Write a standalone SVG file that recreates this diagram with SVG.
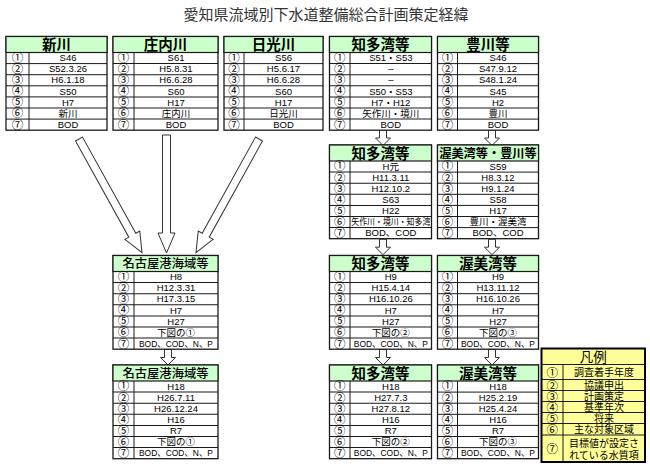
<svg xmlns="http://www.w3.org/2000/svg" width="650" height="466" viewBox="0 0 650 466">
<style>
.frame{fill:#fff;stroke:#1a1a1a;stroke-width:1.3}
.hd{fill:#ccffcc;stroke:#1a1a1a;stroke-width:1.2}
.ln{stroke:#1a1a1a;stroke-width:1;fill:none}
.ht{font-family:"Noto Sans CJK JP",sans-serif;font-weight:bold;font-size:14.5px;text-anchor:middle;fill:#000}
.hs{font-family:"Noto Sans CJK JP",sans-serif;font-size:12.3px;font-weight:500;text-anchor:middle;fill:#000}
.n{font-family:"Noto Sans CJK JP",sans-serif;font-size:11.5px;text-anchor:middle;fill:#000}
.v{font-family:"Liberation Sans","Noto Sans CJK JP",sans-serif;font-size:9.5px;text-anchor:middle;fill:#000}
.lg{font-family:"Noto Sans CJK JP",sans-serif;font-size:10px;text-anchor:middle;fill:#000}
.arr{fill:#fff;stroke:#333;stroke-width:1}
.title{font-family:"Noto Sans CJK JP",sans-serif;font-size:15px;text-anchor:middle;fill:#333}
</style>
<defs>
<g id="grid101">
<line class="ln" x1="0" y1="27.1" x2="101" y2="27.1"/><line class="ln" x1="0" y1="38.2" x2="101" y2="38.2"/><line class="ln" x1="0" y1="49.3" x2="101" y2="49.3"/><line class="ln" x1="0" y1="60.4" x2="101" y2="60.4"/><line class="ln" x1="0" y1="71.5" x2="101" y2="71.5"/><line class="ln" x1="0" y1="82.6" x2="101" y2="82.6"/>
</g>
<g id="nums">
<text class="n" y="25.4">①</text><text class="n" y="36.5">②</text><text class="n" y="47.6">③</text><text class="n" y="58.7">④</text><text class="n" y="69.8">⑤</text><text class="n" y="80.9">⑥</text><text class="n" y="92">⑦</text>
</g>
<path id="small" class="arr" d="M-3.5,0 H3.5 V8 H7.5 L0,15.5 L-7.5,8 H-3.5 Z"/>
</defs>
<text class="title" x="326" y="20">愛知県流域別下水道整備総合計画策定経緯</text>

<g id="connectors">
<path class="arr" transform="translate(79,139) rotate(-29)" d="M-4,0 H4 V110 H8.5 L0,130 L-8.5,110 H-4 Z"/>
<path class="arr" transform="translate(166.5,135)" d="M-4,0 H4 V98 H8.5 L0,118 L-8.5,98 H-4 Z"/>
<path class="arr" transform="translate(259,139) rotate(29)" d="M-4,0 H4 V110 H8.5 L0,130 L-8.5,110 H-4 Z"/>
<use href="#small" x="383" y="130"/>
<use href="#small" x="492" y="130"/>
<use href="#small" x="383" y="239.2"/>
<use href="#small" x="492" y="239.2"/>
<use href="#small" x="383" y="349.5"/>
<use href="#small" x="492" y="349.5"/>
<use href="#small" x="168" y="349.5"/>
</g>

<g id="shinkawa" transform="translate(6,36.5)">
<rect class="frame" width="101" height="93.7"/><rect class="hd" width="101" height="16"/>
<use href="#grid101"/>
<line class="ln" x1="23" y1="16" x2="23" y2="93.7"/>
<use href="#nums" x="11.5"/>
<text class="ht" x="50.5" y="13.6">新川</text>
<g class="v"><text x="62" y="24.7">S46</text><text x="62" y="35.8">S52.3.26</text><text x="62" y="46.9">H6.1.18</text><text x="62" y="58">S50</text><text x="62" y="69.1">H7</text><text x="62" y="80.2">新川</text><text x="62" y="91.3">BOD</text></g>
</g>

<g id="shonai" transform="translate(113,36.5)">
<rect class="frame" width="105" height="93.7"/><rect class="hd" width="105" height="16"/>
<g transform="scale(1.0396,1)"><use href="#grid101"/></g>
<line class="ln" x1="21" y1="16" x2="21" y2="93.7"/>
<use href="#nums" x="10.5"/>
<text class="ht" x="52.5" y="13.6">庄内川</text>
<g class="v"><text x="63" y="24.7">S61</text><text x="63" y="35.8">H5.8.31</text><text x="63" y="46.9">H6.6.28</text><text x="63" y="58">S60</text><text x="63" y="69.1">H17</text><text x="63" y="80.2">庄内川</text><text x="63" y="91.3">BOD</text></g>
</g>

<g id="nikko" transform="translate(224,36.5)">
<rect class="frame" width="99" height="93.7"/><rect class="hd" width="99" height="16"/>
<g transform="scale(0.9802,1)"><use href="#grid101"/></g>
<line class="ln" x1="20" y1="16" x2="20" y2="93.7"/>
<use href="#nums" x="10"/>
<text class="ht" x="49.5" y="13.6">日光川</text>
<g class="v"><text x="59.5" y="24.7">S56</text><text x="59.5" y="35.8">H5.6.17</text><text x="59.5" y="46.9">H6.6.28</text><text x="59.5" y="58">S60</text><text x="59.5" y="69.1">H17</text><text x="59.5" y="80.2">日光川</text><text x="59.5" y="91.3">BOD</text></g>
</g>

<g id="chita1" transform="translate(329.5,36.5)">
<rect class="frame" width="102" height="93.7"/><rect class="hd" width="102" height="16"/>
<g transform="scale(1.0099,1)"><use href="#grid101"/></g>
<line class="ln" x1="20.5" y1="16" x2="20.5" y2="93.7"/>
<use href="#nums" x="10.3"/>
<text class="ht" x="51" y="13.6">知多湾等</text>
<g class="v"><text x="61.3" y="24.7">S51・S53</text><text x="61.3" y="35.8">–</text><text x="61.3" y="46.9">–</text><text x="61.3" y="58">S50・S53</text><text x="61.3" y="69.1">H7・H12</text><text x="61.3" y="80.2">矢作川・境川</text><text x="61.3" y="91.3">BOD</text></g>
</g>

<g id="toyokawa1" transform="translate(437.5,36.5)">
<rect class="frame" width="101" height="93.7"/><rect class="hd" width="101" height="16"/>
<use href="#grid101"/>
<line class="ln" x1="20" y1="16" x2="20" y2="93.7"/>
<use href="#nums" x="10"/>
<text class="ht" x="50.5" y="13.6">豊川等</text>
<g class="v"><text x="60.5" y="24.7">S46</text><text x="60.5" y="35.8">S47.9.12</text><text x="60.5" y="46.9">S48.1.24</text><text x="60.5" y="58">S45</text><text x="60.5" y="69.1">H2</text><text x="60.5" y="80.2">豊川</text><text x="60.5" y="91.3">BOD</text></g>
</g>

<g id="chita2" transform="translate(329.5,145)">
<rect class="frame" width="102" height="93.7"/><rect class="hd" width="102" height="16"/>
<g transform="scale(1.0099,1)"><use href="#grid101"/></g>
<line class="ln" x1="20.5" y1="16" x2="20.5" y2="93.7"/>
<use href="#nums" x="10.3"/>
<text class="ht" x="51" y="13.6">知多湾等</text>
<g class="v"><text x="61.3" y="24.7">H元</text><text x="61.3" y="35.8">H11.3.11</text><text x="61.3" y="46.9">H12.10.2</text><text x="61.3" y="58">S63</text><text x="61.3" y="69.1">H22</text><text x="61.3" y="80.2" textLength="79" lengthAdjust="spacingAndGlyphs" style="font-size:8.6px">矢作川・境川・知多湾</text><text x="61.3" y="91.3">BOD、COD</text></g>
</g>

<g id="atsumi-toyokawa" transform="translate(437.5,145)">
<rect class="frame" width="101" height="93.7"/><rect class="hd" width="101" height="16"/>
<use href="#grid101"/>
<line class="ln" x1="20" y1="16" x2="20" y2="93.7"/>
<use href="#nums" x="10"/>
<text class="ht" x="50.5" y="13.3" style="font-size:12.2px">渥美湾等・豊川等</text>
<g class="v"><text x="60.5" y="24.7">S59</text><text x="60.5" y="35.8">H8.3.12</text><text x="60.5" y="46.9">H9.1.24</text><text x="60.5" y="58">S58</text><text x="60.5" y="69.1">H17</text><text x="60.5" y="80.2">豊川・渥美湾</text><text x="60.5" y="91.3">BOD、COD</text></g>
</g>

<g id="nagoya1" transform="translate(113,255.5)">
<rect class="frame" width="105" height="93.7"/><rect class="hd" width="105" height="16"/>
<g transform="scale(1.0396,1)"><use href="#grid101"/></g>
<line class="ln" x1="21" y1="16" x2="21" y2="93.7"/>
<use href="#nums" x="10.5"/>
<text class="hs" x="52.5" y="12.9">名古屋港海域等</text>
<g class="v"><text x="63" y="24.7">H8</text><text x="63" y="35.8">H12.3.31</text><text x="63" y="46.9">H17.3.15</text><text x="63" y="58">H7</text><text x="63" y="69.1">H27</text><text x="63" y="80.2">下図の①</text><text x="63" y="91.3" textLength="74" lengthAdjust="spacingAndGlyphs">BOD、COD、N、P</text></g>
</g>

<g id="chita3" transform="translate(329.5,255.5)">
<rect class="frame" width="102" height="93.7"/><rect class="hd" width="102" height="16"/>
<g transform="scale(1.0099,1)"><use href="#grid101"/></g>
<line class="ln" x1="20.5" y1="16" x2="20.5" y2="93.7"/>
<use href="#nums" x="10.3"/>
<text class="ht" x="51" y="13.6">知多湾等</text>
<g class="v"><text x="61.3" y="24.7">H9</text><text x="61.3" y="35.8">H15.4.14</text><text x="61.3" y="46.9">H16.10.26</text><text x="61.3" y="58">H7</text><text x="61.3" y="69.1">H27</text><text x="61.3" y="80.2">下図の②</text><text x="61.3" y="91.3" textLength="74" lengthAdjust="spacingAndGlyphs">BOD、COD、N、P</text></g>
</g>

<g id="atsumi3" transform="translate(437.5,255.5)">
<rect class="frame" width="101" height="93.7"/><rect class="hd" width="101" height="16"/>
<use href="#grid101"/>
<line class="ln" x1="20" y1="16" x2="20" y2="93.7"/>
<use href="#nums" x="10"/>
<text class="ht" x="50.5" y="13.6">渥美湾等</text>
<g class="v"><text x="60.5" y="24.7">H9</text><text x="60.5" y="35.8">H13.11.12</text><text x="60.5" y="46.9">H16.10.26</text><text x="60.5" y="58">H7</text><text x="60.5" y="69.1">H27</text><text x="60.5" y="80.2">下図の③</text><text x="60.5" y="91.3" textLength="74" lengthAdjust="spacingAndGlyphs">BOD、COD、N、P</text></g>
</g>

<g id="nagoya2" transform="translate(113,365)">
<rect class="frame" width="105" height="93.7"/><rect class="hd" width="105" height="16"/>
<g transform="scale(1.0396,1)"><use href="#grid101"/></g>
<line class="ln" x1="21" y1="16" x2="21" y2="93.7"/>
<use href="#nums" x="10.5"/>
<text class="hs" x="52.5" y="12.9">名古屋港海域等</text>
<g class="v"><text x="63" y="24.7">H18</text><text x="63" y="35.8">H26.7.11</text><text x="63" y="46.9">H26.12.24</text><text x="63" y="58">H16</text><text x="63" y="69.1">R7</text><text x="63" y="80.2">下図の①</text><text x="63" y="91.3" textLength="74" lengthAdjust="spacingAndGlyphs">BOD、COD、N、P</text></g>
</g>

<g id="chita4" transform="translate(329.5,365)">
<rect class="frame" width="102" height="93.7"/><rect class="hd" width="102" height="16"/>
<g transform="scale(1.0099,1)"><use href="#grid101"/></g>
<line class="ln" x1="20.5" y1="16" x2="20.5" y2="93.7"/>
<use href="#nums" x="10.3"/>
<text class="ht" x="51" y="13.6">知多湾等</text>
<g class="v"><text x="61.3" y="24.7">H18</text><text x="61.3" y="35.8">H27.7.3</text><text x="61.3" y="46.9">H27.8.12</text><text x="61.3" y="58">H16</text><text x="61.3" y="69.1">R7</text><text x="61.3" y="80.2">下図の②</text><text x="61.3" y="91.3" textLength="74" lengthAdjust="spacingAndGlyphs">BOD、COD、N、P</text></g>
</g>

<g id="atsumi4" transform="translate(437.5,365)">
<rect class="frame" width="101" height="93.7"/><rect class="hd" width="101" height="16"/>
<use href="#grid101"/>
<line class="ln" x1="20" y1="16" x2="20" y2="93.7"/>
<use href="#nums" x="10"/>
<text class="ht" x="50.5" y="13.6">渥美湾等</text>
<g class="v"><text x="60.5" y="24.7">H18</text><text x="60.5" y="35.8">H25.2.19</text><text x="60.5" y="46.9">H25.4.24</text><text x="60.5" y="58">H16</text><text x="60.5" y="69.1">R7</text><text x="60.5" y="80.2">下図の③</text><text x="60.5" y="91.3" textLength="74" lengthAdjust="spacingAndGlyphs">BOD、COD、N、P</text></g>
</g>

<g id="legend" transform="translate(541.5,348.5)">
<rect width="103.5" height="113.5" fill="#ffff99" stroke="#000" stroke-width="2"/>
<g class="ln">
<line x1="0" y1="16" x2="103.5" y2="16"/><line x1="0" y1="31" x2="103.5" y2="31"/><line x1="0" y1="42" x2="103.5" y2="42"/><line x1="0" y1="53" x2="103.5" y2="53"/><line x1="0" y1="64" x2="103.5" y2="64"/><line x1="0" y1="75" x2="103.5" y2="75"/><line x1="0" y1="86.5" x2="103.5" y2="86.5"/>
<line x1="21.5" y1="16" x2="21.5" y2="113.5"/>
</g>
<text class="lg" x="51.75" y="13.2" style="font-size:13.5px">凡例</text>
<g class="n"><text x="10.75" y="28">①</text><text x="10.75" y="41">②</text><text x="10.75" y="52">③</text><text x="10.75" y="63">④</text><text x="10.75" y="74">⑤</text><text x="10.75" y="85.3">⑥</text><text x="10.75" y="104.5">⑦</text></g>
<g class="lg"><text x="62.5" y="27.3">調査着手年度</text><text x="62.5" y="40.3">協議申出</text><text x="62.5" y="51.3">計画策定</text><text x="62.5" y="62.3">基準年次</text><text x="62.5" y="73.3">将来</text><text x="62.5" y="84.5">主な対象区域</text><text x="62.5" y="98.3">目標値が設定さ</text><text x="62.5" y="110.8">れている水質項</text></g>
</g>
</svg>
